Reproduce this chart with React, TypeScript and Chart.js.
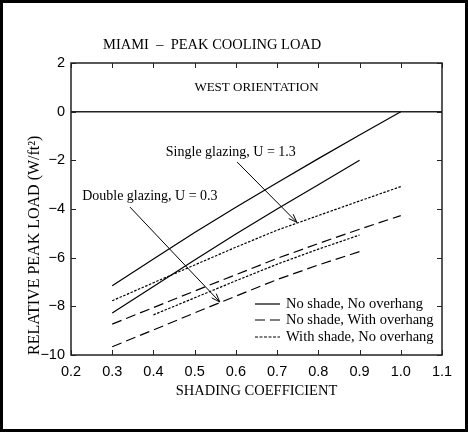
import { useEffect, useRef } from "react";
import { Chart, registerables, Plugin } from "chart.js";

Chart.register(...registerables);

// shading coefficient values
const singleX = [0.3, 0.4, 0.5, 0.6, 0.7, 0.8, 0.9, 1.0];
const doubleX = [0.3, 0.4, 0.5, 0.6, 0.7, 0.8, 0.9];
const doubleShadeX = [0.4, 0.5, 0.6, 0.7, 0.8, 0.9];

// relative peak load, W/ft2
const singleNoShade = [-7.15, -6.05, -4.97, -3.93, -2.92, -1.93, -0.96, 0];
const singleOverhang = [-8.73, -8.05, -7.37, -6.7, -6.03, -5.42, -4.83, -4.27];
const singleShade = [-7.77, -7.03, -6.3, -5.57, -4.87, -4.27, -3.67, -3.08];
const doubleNoShade = [-8.27, -7.18, -6.1, -5.03, -4.0, -3.0, -2.0];
const doubleOverhang = [-9.66, -8.97, -8.27, -7.58, -6.9, -6.3, -5.75];
const doubleShade = [-8.35, -7.65, -6.95, -6.27, -5.65, -5.07];

const legendLabels = [
  "No shade, No overhang",
  "No shade, With overhang",
  "With shade, No overhang",
];

const SOLID: number[] = [];
const DASHED = [10, 5];
const DOTTED = [2.5, 1.5];
const legendDash = [SOLID, DASHED, [3, 1.5]];

const serif = '"Liberation Serif", "Times New Roman", serif';
const sans = '"Liberation Sans", Arial, sans-serif';

const pts = (xs: number[], ys: number[]) => xs.map((x, i) => ({ x, y: ys[i] }));

const line = (label: string, xs: number[], ys: number[], dash: number[]) => ({
  label,
  data: pts(xs, ys),
  borderColor: "#000",
  borderWidth: 1.2,
  borderDash: dash,
  pointRadius: 0,
  fill: false,
  tension: 0,
});

function arrow(ctx: CanvasRenderingContext2D, x0: number, y0: number, x1: number, y1: number) {
  const a = Math.atan2(y1 - y0, x1 - x0);
  const h = 9;
  ctx.beginPath();
  ctx.moveTo(x0, y0);
  ctx.lineTo(x1, y1);
  ctx.moveTo(x1 - h * Math.cos(a - 0.35), y1 - h * Math.sin(a - 0.35));
  ctx.lineTo(x1, y1);
  ctx.lineTo(x1 - h * Math.cos(a + 0.35), y1 - h * Math.sin(a + 0.35));
  ctx.stroke();
}

const decor: Plugin<"line"> = {
  id: "decor",
  afterDraw(chart) {
    const { ctx, chartArea: a } = chart;
    const x = chart.scales.x;
    const y = chart.scales.y;
    ctx.save();

    // frame and inward ticks
    ctx.strokeStyle = "#222";
    ctx.lineWidth = 1.5;
    ctx.setLineDash([]);
    ctx.strokeRect(a.left, a.top, a.width, a.height);
    ctx.lineWidth = 1;
    ctx.beginPath();
    x.ticks.forEach((t) => {
      const px = Math.round(x.getPixelForValue(t.value)) + 0.5;
      ctx.moveTo(px, a.bottom);
      ctx.lineTo(px, a.bottom - 5);
      ctx.moveTo(px, a.top);
      ctx.lineTo(px, a.top + 5);
    });
    y.ticks.forEach((t) => {
      const py = Math.round(y.getPixelForValue(t.value)) + 0.5;
      ctx.moveTo(a.left, py);
      ctx.lineTo(a.left + 5, py);
      ctx.moveTo(a.right, py);
      ctx.lineTo(a.right - 5, py);
    });
    ctx.stroke();

    ctx.fillStyle = "#000";
    ctx.textBaseline = "middle";

    // title
    ctx.font = `14.5px ${serif}`;
    ctx.textAlign = "left";
    ctx.fillText("MIAMI  \u2013  PEAK COOLING LOAD", a.left + 32, a.top - 18);

    ctx.font = `13px ${serif}`;
    ctx.textAlign = "center";
    ctx.fillText("WEST ORIENTATION", (a.left + a.right) / 2, y.getPixelForValue(1));

    // annotations
    ctx.font = `14px ${serif}`;
    ctx.textAlign = "left";
    ctx.fillText("Single glazing, U = 1.3", x.getPixelForValue(0.43), y.getPixelForValue(-1.66));
    ctx.fillText("Double glazing, U = 0.3", x.getPixelForValue(0.227), y.getPixelForValue(-3.46));
    ctx.strokeStyle = "#000";
    ctx.lineWidth = 1;
    arrow(ctx, x.getPixelForValue(0.603), y.getPixelForValue(-2.07), x.getPixelForValue(0.748), y.getPixelForValue(-4.55));
    arrow(ctx, x.getPixelForValue(0.343), y.getPixelForValue(-3.92), x.getPixelForValue(0.561), y.getPixelForValue(-7.82));

    // legend
    ctx.font = `14.5px ${serif}`;
    const rows = [a.bottom - 51, a.bottom - 35, a.bottom - 18];
    legendLabels.forEach((label, i) => {
      ctx.lineWidth = 1.2;
      ctx.setLineDash(legendDash[i]);
      ctx.beginPath();
      ctx.moveTo(a.right - 187, rows[i]);
      ctx.lineTo(a.right - 162, rows[i]);
      ctx.stroke();
      ctx.setLineDash([]);
      ctx.fillText(label, a.right - 156, rows[i]);
    });
    ctx.restore();
  },
};

export default function App() {
  const canvasRef = useRef<HTMLCanvasElement>(null);
  const chartRef = useRef<Chart<"line"> | null>(null);

  useEffect(() => {
    if (!canvasRef.current) return;
    chartRef.current = new Chart(canvasRef.current, {
      type: "line",
      data: {
        datasets: [
          line("Single, no shade", singleX, singleNoShade, SOLID),
          line("Double, no shade", doubleX, doubleNoShade, SOLID),
          line("Single, shade", singleX, singleShade, DOTTED),
          line("Single, overhang", singleX, singleOverhang, DASHED),
          line("Double, shade", doubleShadeX, doubleShade, DOTTED),
          line("Double, overhang", doubleX, doubleOverhang, DASHED),
        ],
      },
      options: {
        responsive: true,
        maintainAspectRatio: false,
        animation: false,
        layout: { padding: { top: 60, right: 23, left: 0, bottom: 0 } },
        plugins: {
          legend: { display: false },
          tooltip: { enabled: false },
        },
        scales: {
          x: {
            type: "linear",
            min: 0.2,
            max: 1.1,
            afterFit: (s) => {
              s.height = 74;
            },
            border: { display: false },
            grid: { display: false, drawTicks: false },
            ticks: {
              stepSize: 0.1,
              padding: 8,
              color: "#000",
              font: { family: sans, size: 14.5 },
              callback: (v) => Number(v).toFixed(1),
            },
            title: {
              display: true,
              text: "SHADING COEFFICIENT",
              color: "#000",
              font: { family: serif, size: 14.5 },
              padding: { top: 0, bottom: 29 },
            },
          },
          y: {
            type: "linear",
            min: -10,
            max: 2,
            afterFit: (s) => {
              s.width = 68;
            },
            border: { display: false },
            grid: {
              drawTicks: false,
              color: (c) => (c.tick && c.tick.value === 0 ? "#222" : "rgba(0,0,0,0)"),
              lineWidth: 1.5,
            },
            ticks: {
              stepSize: 2,
              padding: 6,
              color: "#000",
              font: { family: sans, size: 14.5 },
              callback: (v) => (Number(v) < 0 ? "\u2212" + Math.abs(Number(v)) : String(v)),
            },
            title: {
              display: true,
              text: "RELATIVE PEAK LOAD (W/ft\u00b2)",
              align: "start",
              color: "#000",
              font: { family: serif, size: 16 },
              padding: { top: 22, bottom: 0 },
            },
          },
        },
      },
      plugins: [decor],
    });
    return () => {
      chartRef.current?.destroy();
      chartRef.current = null;
    };
  }, []);

  return (
    <div
      style={{
        position: "fixed",
        left: 0,
        top: 0,
        width: 468,
        height: 432,
        border: "3px solid #000",
        boxSizing: "border-box",
        background: "#fff",
      }}
    >
      <div style={{ position: "relative", width: 462, height: 426 }}>
        <canvas ref={canvasRef} />
      </div>
    </div>
  );
}
